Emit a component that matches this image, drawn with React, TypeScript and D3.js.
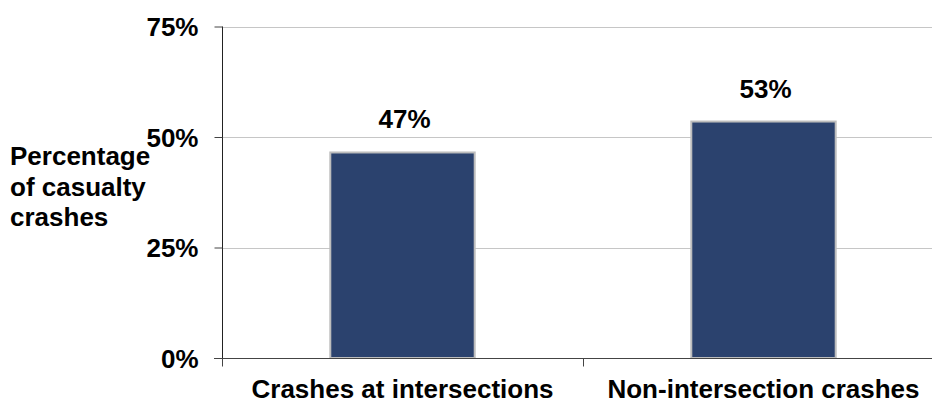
import React, { useEffect, useRef } from 'react';
import * as d3 from 'd3';

// Chart data
const categories = ['Crashes at intersections', 'Non-intersection crashes'];
const values = [46.5, 53.5];
const valueLabels = ['47%', '53%'];
const yTicks = [0, 25, 50, 75];
const yTitle = ['Percentage', 'of casualty', 'crashes'];

const App = () => {
    const svgRef = useRef(null);

    useEffect(() => {
        if (!svgRef.current) return;

        const width = 932;
        const height = 402;
        const margin = { top: 26.5, right: -12, bottom: 44, left: 222 };
        const font = 'Liberation Sans, Arial, Helvetica, sans-serif';

        const svg = d3.select(svgRef.current);
        svg.selectAll('*').remove();

        const x0 = margin.left;
        const x1 = width - margin.right;
        const yBottom = height - margin.bottom;

        // Scales
        const xScale = d3.scaleBand<string>()
            .domain(categories)
            .range([x0, x1])
            .padding(0);

        const yScale = d3.scaleLinear()
            .domain([0, 75])
            .range([yBottom, margin.top]);

        const barWidth = xScale.bandwidth() * 0.4;

        // Gridlines
        svg.append('g')
            .selectAll('line')
            .data(yTicks.filter(d => d > 0))
            .join('line')
            .attr('x1', x0)
            .attr('x2', width)
            .attr('y1', d => Math.round(yScale(d)) + 0.5)
            .attr('y2', d => Math.round(yScale(d)) + 0.5)
            .attr('stroke', '#c6c6c6')
            .attr('stroke-width', 1);

        // Bars
        svg.append('g')
            .selectAll('rect')
            .data(categories)
            .join('rect')
            .attr('x', d => xScale(d)! + xScale.bandwidth() / 2 - barWidth / 2)
            .attr('y', (d, i) => yScale(values[i]))
            .attr('width', barWidth)
            .attr('height', (d, i) => yBottom - yScale(values[i]))
            .attr('fill', '#2b426e')
            .attr('stroke', '#bdbdbd')
            .attr('stroke-width', 2);

        // Value labels
        svg.append('g')
            .selectAll('text')
            .data(categories)
            .join('text')
            .attr('x', d => xScale(d)! + xScale.bandwidth() / 2 + 2)
            .attr('y', (d, i) => yScale(values[i]) - 24)
            .attr('text-anchor', 'middle')
            .attr('font-family', font)
            .attr('font-weight', 'bold')
            .attr('font-size', 26)
            .attr('fill', '#000')
            .text((d, i) => valueLabels[i]);

        // Y axis
        const yAxis = d3.axisLeft(yScale)
            .tickValues(yTicks)
            .tickSize(8)
            .tickPadding(16)
            .tickFormat(d => `${d}%`);

        const yg = svg.append('g')
            .attr('transform', `translate(${x0 + 0.5},0)`)
            .call(yAxis);
        yg.select('.domain').attr('stroke', '#222').attr('d', `M0,${margin.top}V${yBottom}`);
        yg.selectAll('.tick line').attr('stroke', '#444');
        yg.selectAll('.tick text')
            .attr('font-family', font)
            .attr('font-weight', 'bold')
            .attr('font-size', 26)
            .attr('fill', '#000')
            .attr('dy', '0.35em');

        // X axis
        const xAxis = d3.axisBottom(xScale)
            .tickSize(0)
            .tickFormat(d => d);

        const xg = svg.append('g')
            .attr('transform', `translate(0,${Math.round(yBottom) + 0.5})`)
            .call(xAxis);
        xg.select('.domain').attr('stroke', '#444').attr('d', `M${x0 - 8},0H${width}`);
        xg.selectAll('.tick text')
            .attr('y', 39)
            .attr('dy', 0)
            .attr('font-family', font)
            .attr('font-weight', 'bold')
            .attr('font-size', 26)
            .attr('fill', '#000');

        // Category separators
        xg.append('g')
            .selectAll('line')
            .data(categories)
            .join('line')
            .attr('x1', d => Math.round(xScale(d)!) + 0.5)
            .attr('x2', d => Math.round(xScale(d)!) + 0.5)
            .attr('y1', 0)
            .attr('y2', 8)
            .attr('stroke', '#444');

        // Y title
        svg.append('text')
            .attr('font-family', font)
            .attr('font-weight', 'bold')
            .attr('font-size', 26)
            .attr('fill', '#000')
            .selectAll('tspan')
            .data(yTitle)
            .join('tspan')
            .attr('x', 10)
            .attr('y', (d, i) => 165 + i * 30.5)
            .text(d => d);
    }, []);

    return (
        <svg
            ref={svgRef}
            width={932}
            height={402}
            style={{ position: 'absolute', left: 0, top: 0, background: '#fff' }}
        ></svg>
    );
};

export default App;
